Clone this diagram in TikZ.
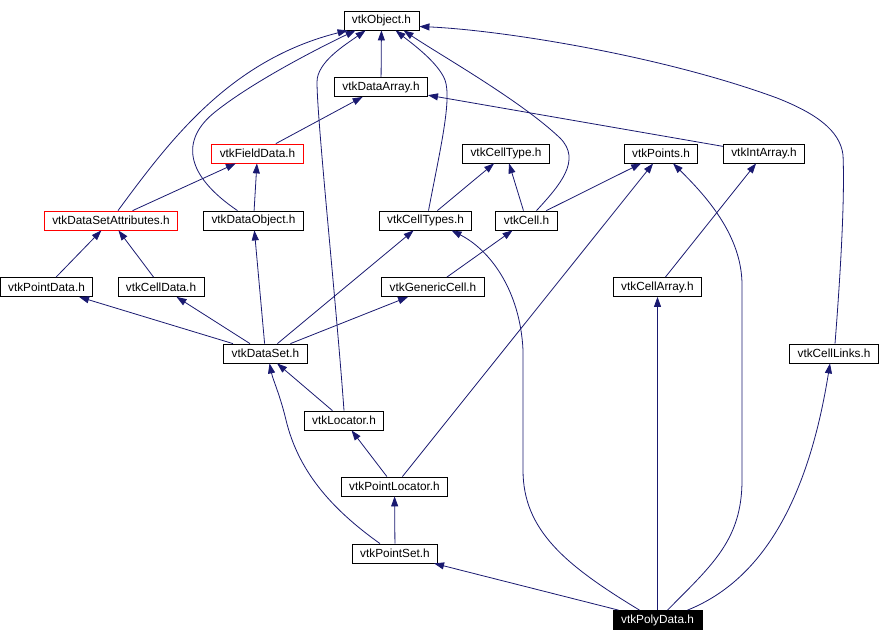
\documentclass[tikz,border=0pt]{standalone}
\usepackage{fontspec}
\setmainfont{Liberation Sans}
\usetikzlibrary{arrows.meta}
\definecolor{edgeNavy}{HTML}{191970}
\definecolor{boxRed}{HTML}{FF0000}

\begin{document}
\begin{tikzpicture}[x=1pt, y=-1pt,
  hfile/.style={draw=black, line width=0.8pt, fill=white, inner xsep=8pt, inner ysep=0pt,
    minimum height=19pt, font=\fontsize{11.8}{13}\selectfont},
  hfilered/.style={hfile, draw=boxRed},
  hfiletop/.style={hfile, fill=black, text=white},
  dep/.style={draw=edgeNavy, line width=0.8pt, -{Triangle[length=10pt, width=7pt]}}
]
  %% --- area (unita': pixel del riferimento, y verso il basso) ---
  \useasboundingbox (0,0) rectangle (882,642);

  %% --- file header: nome/stile/x/y/etichetta ---
  \foreach \name/\stile/\x/\y/\lab in {
    obj/hfile/381.5/20.5/vtkObject.h,
    darr/hfile/381/87/vtkDataArray.h,
    fdata/hfilered/257.5/153.5/vtkFieldData.h,
    ctype/hfile/506/153.5/vtkCellType.h,
    pts/hfile/661/153.5/vtkPoints.h,
    iarr/hfile/764/153.5/vtkIntArray.h,
    dsattr/hfilered/111/220.5/vtkDataSetAttributes.h,
    dobj/hfile/253.5/220.5/vtkDataObject.h,
    ctypes/hfile/425.5/220.5/vtkCellTypes.h,
    cell/hfile/526.5/220.5/vtkCell.h,
    pdata/hfile/46.5/287/vtkPointData.h,
    cdata/hfile/161/287/vtkCellData.h,
    gcell/hfile/433/287/vtkGenericCell.h,
    carr/hfile/657.5/287/vtkCellArray.h,
    dset/hfile/265.5/353.5/vtkDataSet.h,
    clinks/hfile/834/353.5/vtkCellLinks.h,
    loc/hfile/344/420.5/vtkLocator.h,
    ploc/hfile/394.5/486.5/vtkPointLocator.h,
    pset/hfile/395/553.5/vtkPointSet.h,
    poly/hfiletop/657.5/620/vtkPolyData.h} {
    \node[\stile] (\name) at (\x,\y) {\lab};
  }

  %% --- dipendenze dirette (figlio -> header incluso) ---
  \foreach \from/\to in {
    darr/obj, fdata/darr, iarr/darr, dsattr/fdata, dobj/fdata,
    ctypes/ctype, cell/ctype, cell/pts, pdata/dsattr, cdata/dsattr,
    gcell/cell, carr/iarr, dset/pdata, dset/cdata, dset/dobj,
    dset/ctypes, dset/gcell, loc/dset, ploc/loc, ploc/pts,
    pset/ploc, poly/pset, poly/carr} {
    \draw[dep] (\from) -- (\to);
  }

  %% --- dipendenze curve verso vtkObject.h ---
  \draw[dep] ([xshift=7pt]dsattr.north) .. controls (170,140) and (230,60) .. ([xshift=4pt]obj.south west);
  \draw[dep] ([xshift=-16pt]dobj.north) .. controls (185,175) and (180,140) .. (215,112)
    .. controls (255,80) and (325,45) .. ([xshift=12pt]obj.south west);
  \draw[dep] (loc.north) .. controls (336,300) and (317,120) .. (317,82)
    .. controls (317,62) and (345,45) .. ([xshift=22pt]obj.south west);
  \draw[dep] ([xshift=3pt]ctypes.north) .. controls (440,150) and (452,100) .. (445,80)
    .. controls (438,62) and (410,42) .. ([xshift=52pt]obj.south west);
  \draw[dep] ([xshift=10pt]cell.north) .. controls (560,185) and (582,160) .. (560,138)
    .. controls (520,100) and (440,55) .. ([xshift=60pt]obj.south west);
  \draw[dep] ([xshift=1pt]clinks.north) .. controls (840,280) and (845,200) .. (843,155)
    .. controls (840,130) and (815,113) .. (777,98)
    .. controls (660,55) and (500,30) .. ([yshift=-6pt]obj.east);

  %% --- dipendenze curve nella parte bassa ---
  \draw[dep] ([xshift=-15pt]pset.north) .. controls (330,508) and (298,470) .. (286,420)
    .. controls (280,395) and (273,380) .. ([xshift=4pt]dset.south);
  \draw[dep] ([xshift=-18pt]poly.north) .. controls (565,565) and (523,530) .. (523,470)
    -- (523,350) .. controls (520,290) and (490,250) .. ([xshift=26pt]ctypes.south);
  \draw[dep] ([xshift=10pt]poly.north) .. controls (712,565) and (742,540) .. (742,480)
    -- (742,285) .. controls (742,235) and (705,195) .. ([xshift=12pt]pts.south);
  \draw[dep] ([xshift=30pt]poly.north) .. controls (750,585) and (805,520) .. ([xshift=-4pt]clinks.south);
\end{tikzpicture}
\end{document}
